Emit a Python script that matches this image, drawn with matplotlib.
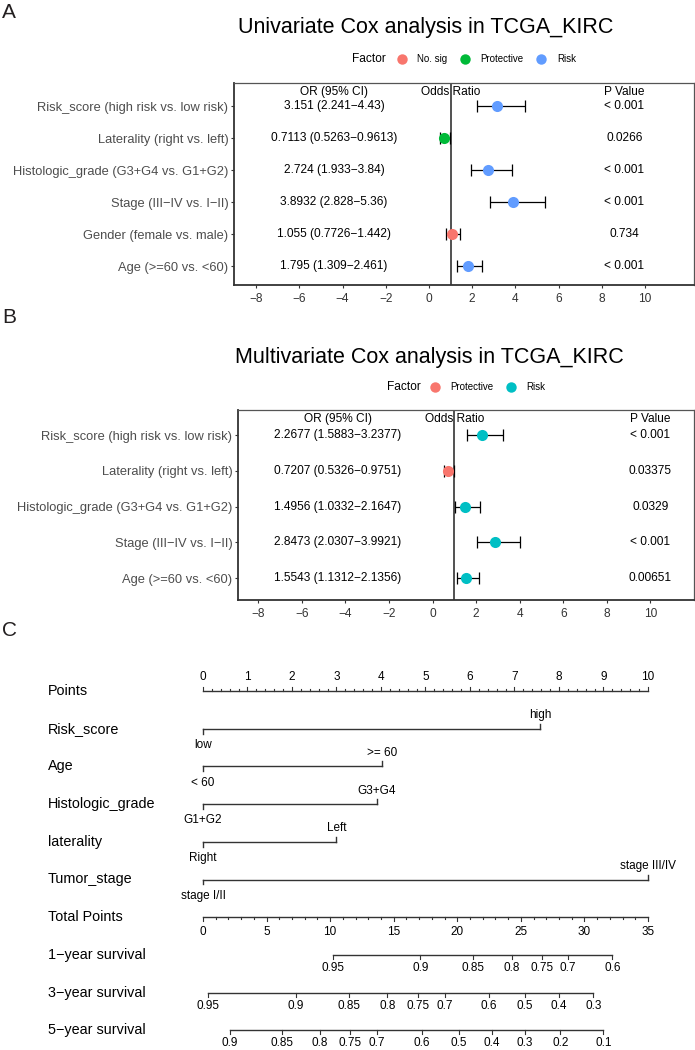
import matplotlib.pyplot as plt
from matplotlib.lines import Line2D
import numpy as np

plt.rcParams['font.family'] = ['Liberation Sans', 'DejaVu Sans']

W, H = 695, 1050

# ---- data: univariate Cox (panel A) ----
uni_labels = ['Risk_score (high risk vs. low risk)', 'Laterality (right vs. left)',
              'Histologic_grade (G3+G4 vs. G1+G2)', 'Stage (III\u2212IV vs. I\u2212II)',
              'Gender (female vs. male)', 'Age (>=60 vs. <60)']
uni_or = [3.151, 0.7113, 2.724, 3.8932, 1.055, 1.795]
uni_lo = [2.241, 0.5263, 1.933, 2.828, 0.7726, 1.309]
uni_hi = [4.43, 0.9613, 3.84, 5.36, 1.442, 2.461]
uni_p = ['< 0.001', '0.0266', '< 0.001', '< 0.001', '0.734', '< 0.001']
uni_factor = ['Risk', 'Protective', 'Risk', 'Risk', 'No. sig', 'Risk']
uni_colors = {'No. sig': '#F8766D', 'Protective': '#00BA38', 'Risk': '#619CFF'}

# ---- data: multivariate Cox (panel B) ----
multi_labels = ['Risk_score (high risk vs. low risk)', 'Laterality (right vs. left)',
                'Histologic_grade (G3+G4 vs. G1+G2)', 'Stage (III\u2212IV vs. I\u2212II)',
                'Age (>=60 vs. <60)']
multi_or = [2.2677, 0.7207, 1.4956, 2.8473, 1.5543]
multi_lo = [1.5883, 0.5326, 1.0332, 2.0307, 1.1312]
multi_hi = [3.2377, 0.9751, 2.1647, 3.9921, 2.1356]
multi_p = ['< 0.001', '0.03375', '0.0329', '< 0.001', '0.00651']
multi_factor = ['Risk', 'Protective', 'Risk', 'Risk', 'Risk']
multi_colors = {'Protective': '#F8766D', 'Risk': '#00BFC4'}

xticks_forest = [-8, -6, -4, -2, 0, 2, 4, 6, 8, 10]

# ---- data: nomogram (panel C) ----
nomo_vars = ['Risk_score', 'Age', 'Histologic_grade', 'laterality', 'Tumor_stage']
nomo_levels = [('low', 'high'), ('< 60', '>= 60'), ('G1+G2', 'G3+G4'),
               ('Right', 'Left'), ('stage I/II', 'stage III/IV')]
nomo_points = [(0, 7.58), (0, 4.03), (0, 3.9), (0, 3.0), (0, 10)]
total_max = 35
surv_names = ['1\u2212year survival', '3\u2212year survival', '5\u2212year survival']
surv_labels = [
    ['0.95', '0.9', '0.85', '0.8', '0.75', '0.7', '0.6'],
    ['0.95', '0.9', '0.85', '0.8', '0.75', '0.7', '0.6', '0.5', '0.4', '0.3'],
    ['0.9', '0.85', '0.8', '0.75', '0.7', '0.6', '0.5', '0.4', '0.3', '0.2', '0.1'],
]
surv_total = [
    [10.2, 17.1, 21.2, 24.3, 26.7, 28.7, 32.2],
    [0.4, 7.3, 11.5, 14.5, 16.9, 19.0, 22.5, 25.3, 28.0, 30.7],
    [2.1, 6.2, 9.2, 11.6, 13.7, 17.2, 20.1, 22.7, 25.3, 28.1, 31.5],
]

fig = plt.figure(figsize=(W / 100, H / 100), dpi=100)


def rect(l, t, r, b):
    return [l / W, 1 - b / H, (r - l) / W, (b - t) / H]


def fy(y):
    return 1 - y / H


def forest(box, labels, ors, los, his, pvals, factors, colors, xlim, ylim, or_x, p_x):
    ax = fig.add_axes(box)
    n = len(labels)
    ys = np.arange(n, 0, -1)
    ax.axvline(1, color='#222222', lw=1.1, zorder=1)
    for y, o, lo, hi, p, f in zip(ys, ors, los, his, pvals, factors):
        ax.errorbar(o, y, xerr=[[o - lo], [hi - o]], fmt='none', ecolor='black',
                    elinewidth=0.9, capsize=4.3, capthick=0.9, zorder=2)
        ax.plot(o, y, 'o', ms=8, color=colors[f], mec='none', zorder=3)
        ax.text(or_x, y, f'{o} ({lo}\u2212{hi})', ha='center', va='center', fontsize=8.6)
        ax.text(p_x, y, p, ha='center', va='center', fontsize=8.6)
    hy = n + 0.45
    ax.text(or_x, hy, 'OR (95% CI)', ha='center', va='center', fontsize=8.6)
    ax.text(1, hy, 'Odds Ratio', ha='center', va='center', fontsize=8.6)
    ax.text(p_x, hy, 'P Value', ha='center', va='center', fontsize=8.6)
    ax.set_xlim(*xlim)
    ax.set_ylim(*ylim)
    ax.set_yticks(ys, labels)
    ax.set_xticks(xticks_forest)
    ax.tick_params(axis='y', length=2.5, width=0.8, pad=1.5, labelsize=9.3,
                   labelcolor='#4d4d4d', color='#333333')
    ax.tick_params(axis='x', length=2, width=0.8, pad=3.5, labelsize=8.6,
                   labelcolor='#333333', color='#333333')
    for s in ['top', 'right']:
        ax.spines[s].set_color('#555555')
        ax.spines[s].set_linewidth(0.9)
    for s in ['left', 'bottom']:
        ax.spines[s].set_color('#333333')
        ax.spines[s].set_linewidth(1.3)
    return ax


def legend(colors, x0, y, fx):
    handles = [Line2D([], [], marker='o', ls='none', ms=7.5, color=c, mec='none')
               for c in colors.values()]
    fig.legend(handles, list(colors.keys()), ncol=len(handles), frameon=False,
               loc='center left', bbox_to_anchor=(x0 / W, fy(y)), fontsize=7.0,
               borderpad=0, borderaxespad=0, handlelength=1.0, handletextpad=1.1,
               columnspacing=1.3)
    fig.text(fx / W, fy(y), 'Factor', ha='left', va='center', fontsize=8.6)


# ---- panel A ----
fig.text(2 / W, fy(18), 'A', fontsize=15, color='#231f20', va='baseline')
fig.text(425.5 / W, fy(33), 'Univariate Cox analysis in TCGA_KIRC', ha='center',
         va='baseline', fontsize=15.5)
legend(uni_colors, 397, 59, 352)
forest(rect(234, 83, 694, 285), uni_labels, uni_or, uni_lo, uni_hi, uni_p,
       uni_factor, uni_colors, (-9.03, 12.27), (0.41, 6.72), -4.4, 9.05)

# ---- panel B ----
fig.text(2 / W, fy(323), 'B', fontsize=15, color='#231f20', va='baseline')
fig.text(429 / W, fy(363), 'Multivariate Cox analysis in TCGA_KIRC', ha='center',
         va='baseline', fontsize=15.5)
legend(multi_colors, 430, 387, 387)
forest(rect(238, 410, 694, 600), multi_labels, multi_or, multi_lo, multi_hi, multi_p,
       multi_factor, multi_colors, (-8.93, 12.0), (0.385, 5.70), -4.35, 10.0)

# ---- panel C: nomogram ----
fig.text(2 / W, fy(636), 'C', fontsize=15, color='#231f20', va='baseline')
axc = fig.add_axes(rect(0, 640, W, H))
axc.set_xlim(-203 / 44.5, (W - 203) / 44.5)
axc.set_ylim((H - 691) / 37.7, (640 - 691) / 37.7)
axc.axis('off')
lc = '#333333'
lw = 1.0
lab_x = (48 - 203) / 44.5
fs_lab = 10.4
fs_tick = 8.5
fs_lev = 8.5

# Points axis (row 0): ticks up, labels above
axc.plot([0, 10], [0, 0], color=lc, lw=lw)
for v in np.arange(0, 10.01, 0.2):
    major = abs(v - round(v)) < 1e-6
    axc.plot([v, v], [0, -0.11 if major else -0.06], color=lc, lw=0.8)
for v in range(11):
    axc.text(v, -0.38, str(v), ha='center', va='center', fontsize=fs_tick)
axc.text(lab_x, 0, 'Points', ha='left', va='center', fontsize=fs_lab)

# variable rows
for i, (name, levs, pts) in enumerate(zip(nomo_vars, nomo_levels, nomo_points)):
    r = i + 1
    axc.text(lab_x, r, name, ha='left', va='center', fontsize=fs_lab)
    axc.plot([pts[0], pts[1]], [r, r], color=lc, lw=lw)
    axc.plot([pts[0], pts[0]], [r, r + 0.13], color=lc, lw=lw)
    axc.plot([pts[1], pts[1]], [r, r - 0.13], color=lc, lw=lw)
    axc.text(pts[0], r + 0.43, levs[0], ha='center', va='center', fontsize=fs_lev)
    axc.text(pts[1], r - 0.36, levs[1], ha='center', va='center', fontsize=fs_lev)

# Total Points axis (row 6): ticks down, labels below
sc = 10 / total_max
r = 6
axc.text(lab_x, r, 'Total Points', ha='left', va='center', fontsize=fs_lab)
axc.plot([0, total_max * sc], [r, r], color=lc, lw=lw)
for v in range(total_max + 1):
    axc.plot([v * sc, v * sc], [r, r + (0.11 if v % 5 == 0 else 0.06)], color=lc, lw=0.8)
for v in range(0, total_max + 1, 5):
    axc.text(v * sc, r + 0.38, str(v), ha='center', va='center', fontsize=fs_tick)

# survival axes
for k, (name, labs, tots) in enumerate(zip(surv_names, surv_labels, surv_total)):
    r = 7 + k
    axc.text(lab_x, r, name, ha='left', va='center', fontsize=fs_lab)
    xs = [t * sc for t in tots]
    axc.plot([xs[0], xs[-1]], [r, r], color=lc, lw=lw)
    for x, lab in zip(xs, labs):
        axc.plot([x, x], [r, r + 0.11], color=lc, lw=0.8)
        axc.text(x, r + 0.35, lab, ha='center', va='center', fontsize=fs_tick)

fig.savefig('out.png', dpi=100)
